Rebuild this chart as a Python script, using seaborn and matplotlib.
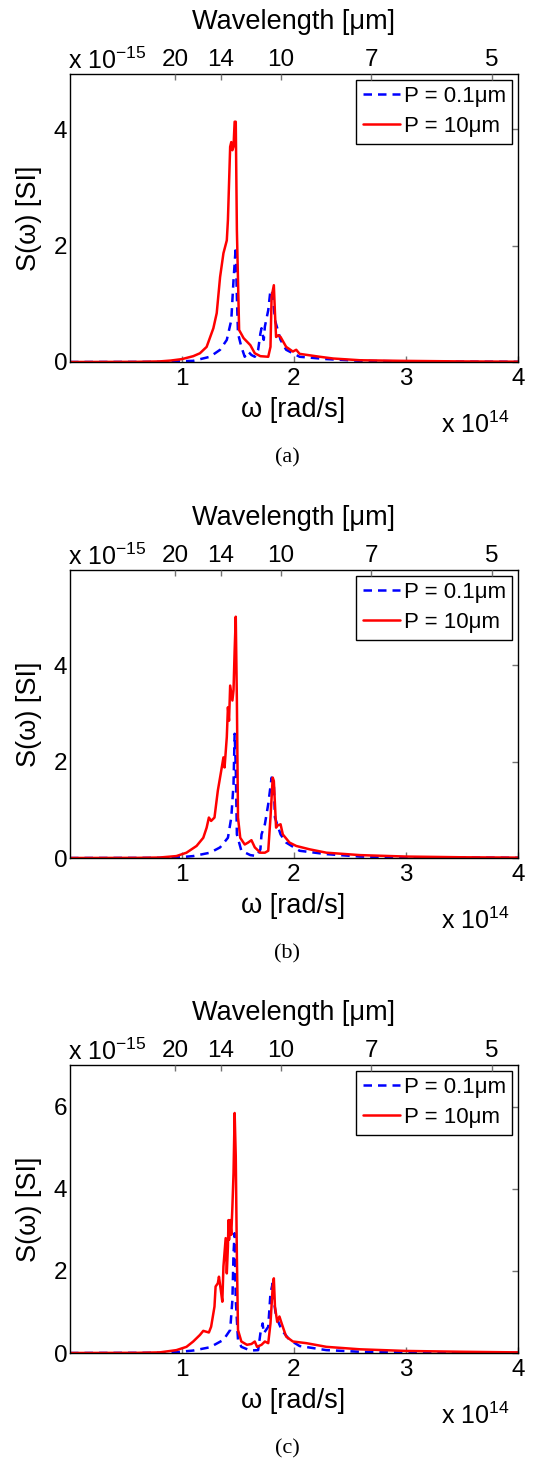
import numpy as np
import pandas as pd
import matplotlib
matplotlib.use("Agg")
import matplotlib.pyplot as plt
import seaborn as sns

sns.set_style("white")
plt.rcParams['font.family'] = ['Liberation Sans', 'DejaVu Sans']
plt.rcParams['mathtext.default'] = 'regular'
plt.rcParams['text.color'] = 'black'
plt.rcParams['axes.labelcolor'] = 'black'
plt.rcParams['xtick.color'] = 'black'
plt.rcParams['ytick.color'] = 'black'

# ---------------- data (omega in 1e14 rad/s, S in SI) ----------------
w_a_red = [0.0, 0.6, 0.8, 0.9, 1.0, 1.10, 1.16, 1.22, 1.28, 1.31, 1.34, 1.37, 1.40, 1.41, 1.43, 1.44, 1.45, 1.46,
           1.47, 1.48, 1.49, 1.51, 1.55, 1.61, 1.65, 1.70, 1.77, 1.79, 1.80, 1.82, 1.83, 1.84, 1.86, 1.88,
           1.93, 1.99, 2.02, 2.05, 2.23, 2.35, 2.59, 2.95, 3.5, 4.0]
s_a_red = [0.0, 0.003, 0.01, 0.025, 0.05, 0.10, 0.15, 0.26, 0.58, 0.84, 1.46, 1.87, 2.09, 2.44, 3.70, 3.78, 3.64, 3.70,
           4.13, 4.13, 2.27, 0.55, 0.41, 0.29, 0.15, 0.10, 0.09, 0.26, 1.12, 1.32, 0.84, 0.43, 0.46, 0.43,
           0.26, 0.18, 0.21, 0.14, 0.09, 0.06, 0.03, 0.02, 0.01, 0.005]
w_a_blue = [0.0, 0.8, 0.95, 1.10, 1.25, 1.34, 1.40, 1.44, 1.46, 1.48, 1.49, 1.50, 1.53, 1.56, 1.59, 1.62, 1.65,
            1.68, 1.70, 1.71, 1.73, 1.74, 1.77, 1.79, 1.81, 1.83, 1.88, 1.93, 2.05, 2.29, 2.59, 3.0, 4.0]
s_a_blue = [0.0, 0.002, 0.01, 0.02, 0.09, 0.21, 0.38, 0.72, 1.41, 1.98, 1.12, 0.49, 0.26, 0.09, 0.18, 0.12, 0.09,
            0.21, 0.49, 0.58, 0.38, 0.61, 0.89, 1.24, 1.18, 0.72, 0.38, 0.21, 0.09, 0.05, 0.02, 0.01, 0.003]

w_b_red = [0.0, 0.6, 0.80, 0.95, 1.04, 1.13, 1.19, 1.22, 1.24, 1.26, 1.29, 1.32, 1.35, 1.37, 1.38, 1.40, 1.41, 1.42,
           1.43, 1.45, 1.46, 1.47, 1.48, 1.49, 1.50, 1.52, 1.56, 1.59, 1.62, 1.65, 1.70, 1.74, 1.77, 1.79,
           1.81, 1.82, 1.84, 1.85, 1.88, 1.90, 1.96, 2.02, 2.14, 2.29, 2.59, 3.0, 3.5, 4.0]
s_b_red = [0.0, 0.003, 0.01, 0.04, 0.11, 0.25, 0.42, 0.63, 0.84, 0.77, 0.84, 1.40, 1.81, 2.09, 1.88, 2.51, 3.13, 2.85,
           3.58, 3.27, 3.48, 4.31, 5.01, 3.27, 0.84, 0.42, 0.28, 0.32, 0.37, 0.22, 0.11, 0.11, 0.15, 0.84,
           1.67, 1.60, 0.63, 0.67, 0.70, 0.49, 0.32, 0.25, 0.18, 0.11, 0.06, 0.03, 0.015, 0.008]
w_b_blue = [0.0, 0.8, 0.95, 1.10, 1.25, 1.34, 1.41, 1.44, 1.46, 1.47, 1.48, 1.49, 1.53, 1.61, 1.67, 1.70, 1.71,
            1.74, 1.77, 1.80, 1.82, 1.83, 1.88, 1.93, 2.05, 2.29, 2.59, 3.0, 4.0]
s_b_blue = [0.0, 0.003, 0.01, 0.04, 0.11, 0.22, 0.42, 0.84, 1.53, 2.58, 1.88, 0.49, 0.15, 0.06, 0.04, 0.18, 0.49,
            0.70, 1.12, 1.67, 1.53, 0.84, 0.49, 0.32, 0.15, 0.08, 0.03, 0.015, 0.004]

w_c_red = [0.0, 0.6, 0.80, 0.95, 1.04, 1.10, 1.16, 1.19, 1.24, 1.26, 1.29, 1.30, 1.32, 1.33, 1.35, 1.36, 1.37, 1.39,
           1.40, 1.41, 1.415, 1.42, 1.43, 1.44, 1.45, 1.46, 1.47, 1.48, 1.49, 1.50, 1.53, 1.58, 1.62, 1.65,
           1.67, 1.71, 1.74, 1.77, 1.79, 1.81, 1.82, 1.83, 1.85, 1.87, 1.89, 1.93, 1.99, 2.11, 2.29, 2.59,
           3.0, 3.5, 4.0]
s_c_red = [0.0, 0.004, 0.015, 0.07, 0.15, 0.28, 0.44, 0.54, 0.50, 0.64, 1.13, 1.62, 1.70, 1.86, 1.46, 1.25, 2.11, 2.80,
           1.94, 2.59, 3.24, 2.76, 3.24, 2.88, 3.57, 4.38, 5.85, 4.79, 2.35, 0.56, 0.28, 0.20, 0.22, 0.28,
           0.15, 0.20, 0.28, 0.24, 0.72, 1.62, 1.82, 1.13, 0.76, 0.89, 0.72, 0.40, 0.28, 0.24, 0.15, 0.09,
           0.05, 0.03, 0.015]
w_c_blue = [0.0, 0.8, 0.95, 1.10, 1.25, 1.37, 1.43, 1.45, 1.46, 1.47, 1.48, 1.50, 1.53, 1.61, 1.68, 1.70, 1.72,
            1.73, 1.75, 1.77, 1.79, 1.81, 1.82, 1.84, 1.89, 1.96, 2.05, 2.29, 2.59, 3.0, 4.0]
s_c_blue = [0.0, 0.005, 0.02, 0.06, 0.14, 0.32, 0.56, 1.29, 2.43, 2.92, 1.29, 0.32, 0.15, 0.06, 0.07, 0.48, 0.72,
            0.48, 0.56, 0.64, 1.46, 1.70, 1.29, 0.89, 0.56, 0.32, 0.17, 0.07, 0.03, 0.015, 0.005]

panels = [
    ("(a)", w_a_blue, s_a_blue, w_a_red, s_a_red, 4.95, [0, 2, 4]),
    ("(b)", w_b_blue, s_b_blue, w_b_red, s_b_red, 5.98, [0, 2, 4]),
    ("(c)", w_c_blue, s_c_blue, w_c_red, s_c_red, 7.02, [0, 2, 4, 6]),
]
x_ticks = [1, 2, 3, 4]
wl_ticks = [20, 14, 10, 7, 5]  # micrometres
legend_labels = ["P = 0.1\u03bcm", "P = 10\u03bcm"]

# ---------------- figure ----------------
W, H = 533, 1459
fig = plt.figure(figsize=(W / 100, H / 100), dpi=100)
c_light = 2.99792458e8
wl_pos = [2 * np.pi * c_light / (l * 1e-6) / 1e14 for l in wl_ticks]

tops = [74, 570, 1065]
ax_h = 288
left, right = 70, 518
TICK_FS = 17.5
LAB_FS = 19.5

def fx(px):
    return px / W

def fy(py):
    return 1 - py / H

for (cap, wb, sb, wr, sr, ymax, yt), top in zip(panels, tops):
    ax = fig.add_axes([fx(left), fy(top + ax_h), (right - left) / W, ax_h / H])
    df_b = pd.DataFrame({"w": wb, "S": sb})
    df_r = pd.DataFrame({"w": wr, "S": sr})
    sns.lineplot(data=df_b, x="w", y="S", ax=ax, color="#0000FF", lw=1.8,
                 linestyle=(0, (3.4, 2.4)), label=legend_labels[0], estimator=None)
    sns.lineplot(data=df_r, x="w", y="S", ax=ax, color="#FF0000", lw=1.8,
                 label=legend_labels[1], estimator=None)
    ax.set_xlim(0, 4)
    ax.set_ylim(0, ymax)
    ax.set_xticks(x_ticks)
    ax.set_yticks(yt)
    ax.set_xlabel("")
    ax.set_ylabel("")
    for s in ax.spines.values():
        s.set_color("black")
        s.set_linewidth(1.0)
    ax.tick_params(axis="both", direction="in", length=4, width=1, color="0.45",
                   labelsize=TICK_FS, labelcolor="black", right=True, top=False, pad=4)
    ax.tick_params(axis="y", pad=2)
    leg = ax.legend(loc="upper right", fontsize=16, frameon=True, fancybox=False,
                    edgecolor="black", framealpha=1, borderaxespad=0.25,
                    handlelength=1.7, handletextpad=0.15, borderpad=0.3,
                    labelspacing=0.4)
    leg.get_frame().set_linewidth(1.0)
    for t in leg.get_texts():
        t.set_color("black")

    axt = ax.twiny()
    axt.set_xlim(0, 4)
    axt.set_xticks(wl_pos)
    axt.set_xticklabels([str(v) for v in wl_ticks])
    axt.tick_params(axis="x", direction="in", length=4, width=1, color="0.45",
                    labelsize=TICK_FS, labelcolor="black", pad=2)
    for s in axt.spines.values():
        s.set_visible(False)

    # texts
    fig.text(fx(293), fy(top - 52), "Wavelength [\u03bcm]", ha="center", va="center",
             fontsize=LAB_FS, color="black")
    fig.text(fx(68), fy(top - 5), "x 10$^{\u221215}$", ha="left", va="baseline",
             fontsize=18, color="black")
    fig.text(fx(29), fy(top + ax_h / 2), "S(\u03c9) [SI]", ha="center", va="center",
             rotation=90, fontsize=LAB_FS, color="black")
    fig.text(fx(293), fy(top + ax_h + 48), "\u03c9 [rad/s]", ha="center", va="center",
             fontsize=LAB_FS, color="black")
    fig.text(fx(509), fy(top + ax_h + 71), "x 10$^{14}$", ha="right", va="baseline",
             fontsize=18, color="black")
    fig.text(fx(287), fy(top + ax_h + 96), cap, ha="center", va="center", fontsize=16,
             family="Liberation Serif", color="black")

fig.savefig("out.png", dpi=100)
